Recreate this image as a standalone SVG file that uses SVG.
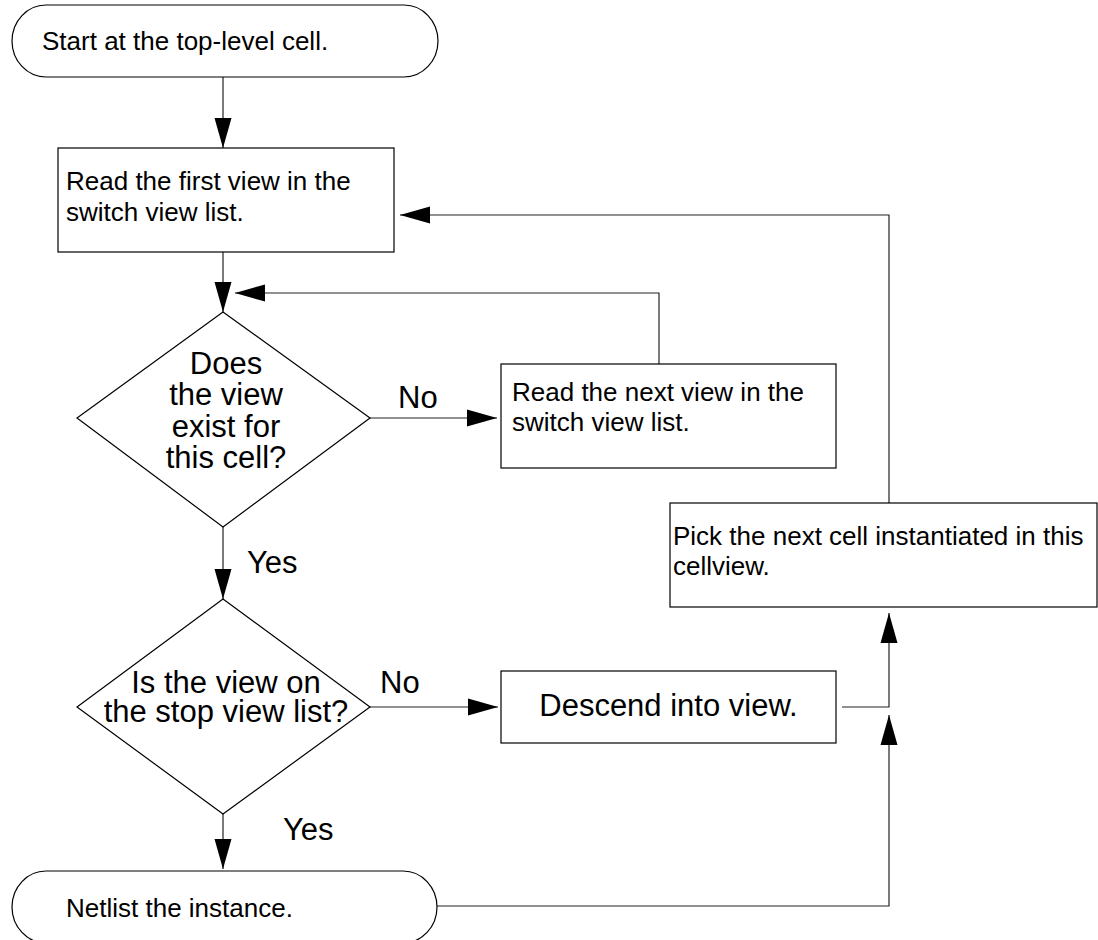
<svg xmlns="http://www.w3.org/2000/svg" width="1098" height="940" viewBox="0 0 1098 940">
<defs>
<style>
.shape{fill:#fff;stroke:#000;stroke-width:1.2}
.conn{fill:none;stroke:#222;stroke-width:1.2}
.t{font-family:"Liberation Sans",Arial,Helvetica,sans-serif;fill:#000}
.s26{font-size:26px}
.s31{font-size:31px}
.mid{text-anchor:middle}
</style>
<marker id="ah" markerUnits="userSpaceOnUse" markerWidth="30" markerHeight="18" refX="30" refY="8.5" orient="auto" viewBox="0 0 30 17">
<path d="M0,0 L30,8.5 L0,17 Z" fill="#000"/>
</marker>
</defs>
<rect width="1098" height="940" fill="#fff"/>

<g id="connectors">
<line class="conn" x1="223" y1="77" x2="223" y2="148" marker-end="url(#ah)"/>
<line class="conn" x1="223" y1="252" x2="223" y2="312" marker-end="url(#ah)"/>
<line class="conn" x1="223" y1="527" x2="223" y2="599" marker-end="url(#ah)"/>
<line class="conn" x1="223" y1="814" x2="223" y2="869" marker-end="url(#ah)"/>
<line class="conn" x1="370" y1="418" x2="497" y2="418" marker-end="url(#ah)"/>
<line class="conn" x1="370" y1="707" x2="498" y2="707" marker-end="url(#ah)"/>
<polyline class="conn" points="659,364 659,293 235,293" marker-end="url(#ah)"/>
<polyline class="conn" points="889,503 889,215 400,215" marker-end="url(#ah)"/>
<polyline class="conn" points="842,707 889,707 889,613" marker-end="url(#ah)"/>
<polyline class="conn" points="437,906 889,906 889,715" marker-end="url(#ah)"/>
</g>

<g id="start">
<rect class="shape" x="12" y="5" width="426" height="72" rx="34" ry="36"/>
<text class="t s26" x="42" y="50">Start at the top-level cell.</text>
</g>

<g id="read-first">
<rect class="shape" x="58" y="148" width="336" height="104"/>
<text class="t s26" x="66" y="190">Read the first view in the</text>
<text class="t s26" x="66" y="221">switch view list.</text>
</g>

<g id="exists">
<polygon class="shape" points="223,312 370,418 223,527 77,418"/>
<text class="t s31 mid" x="226" y="374">Does</text>
<text class="t s31 mid" x="226" y="405">the view</text>
<text class="t s31 mid" x="226" y="437">exist for</text>
<text class="t s31 mid" x="226" y="468">this cell?</text>
</g>

<g id="read-next">
<rect class="shape" x="501" y="364" width="335" height="104"/>
<text class="t s26" x="512" y="401">Read the next view in the</text>
<text class="t s26" x="512" y="431">switch view list.</text>
</g>

<g id="pick">
<rect class="shape" x="670" y="503" width="427" height="104"/>
<text class="t s26" x="673" y="545">Pick the next cell instantiated in this</text>
<text class="t s26" x="673" y="575">cellview.</text>
</g>

<g id="stop">
<polygon class="shape" points="223,599 370,707 223,814 77,707"/>
<text class="t s31 mid" x="226" y="693">Is the view on</text>
<text class="t s31 mid" x="226" y="722">the stop view list?</text>
</g>

<g id="descend">
<rect class="shape" x="501" y="671" width="335" height="72"/>
<text class="t s31 mid" x="668.5" y="716">Descend into view.</text>
</g>

<g id="netlist">
<rect class="shape" x="12" y="871" width="425" height="72" rx="34" ry="36"/>
<text class="t s26" x="66" y="917">Netlist the instance.</text>
</g>

<g id="labels">
<text class="t s31" x="398" y="408">No</text>
<text class="t s31" x="380" y="693">No</text>
<text class="t s31" x="247" y="573">Yes</text>
<text class="t s31" x="283" y="840">Yes</text>
</g>
</svg>
